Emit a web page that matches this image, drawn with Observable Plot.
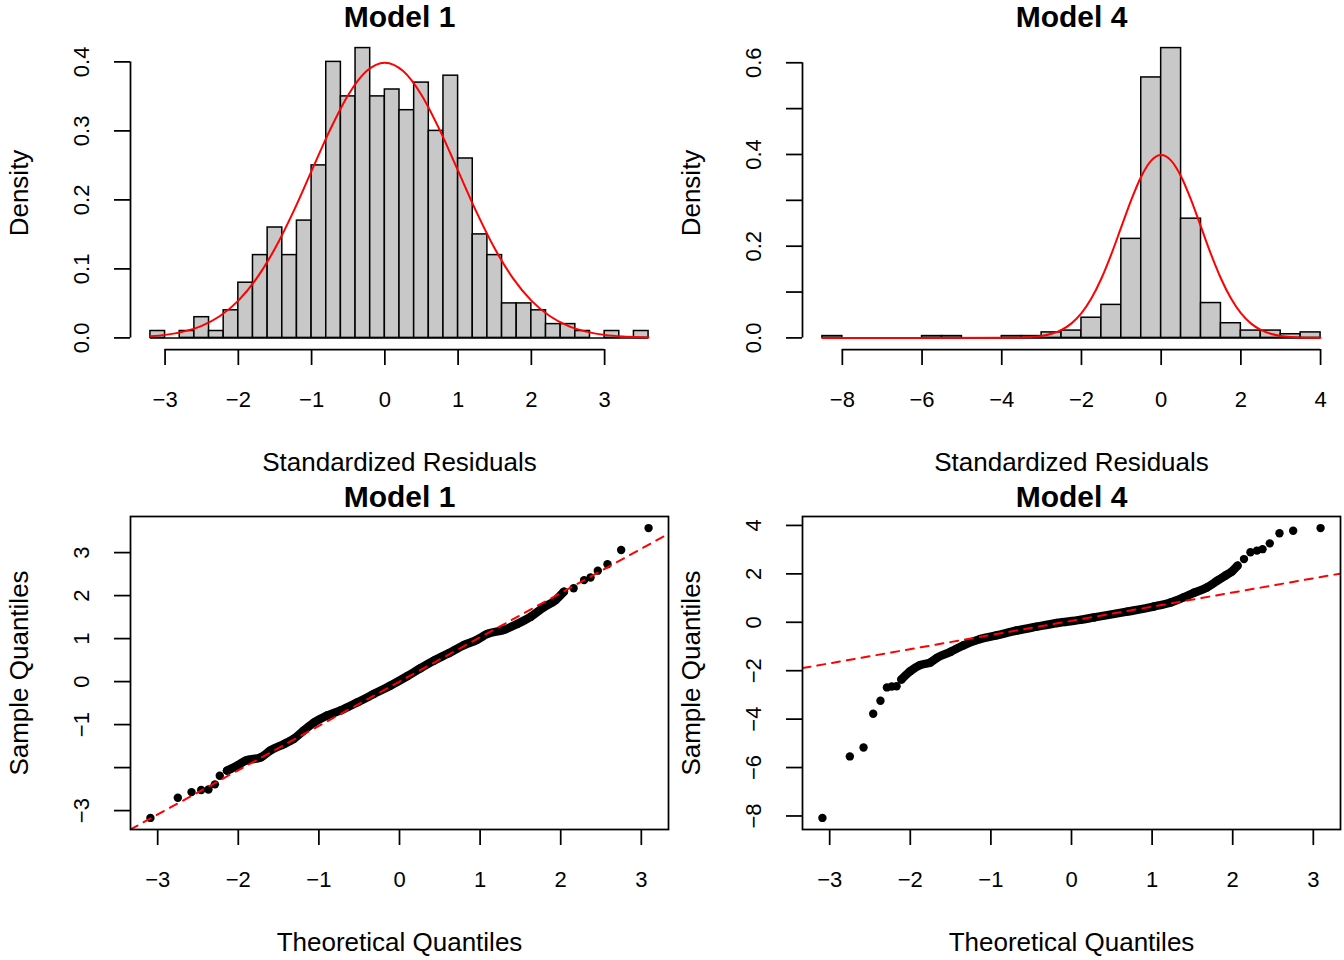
<!DOCTYPE html>
<html><head><meta charset="utf-8">
<script src="https://cdn.jsdelivr.net/npm/d3@7"></script>
<script src="https://cdn.jsdelivr.net/npm/@observablehq/plot@0.6"></script>
<style>
body{margin:0;background:#fff;}
#grid{display:grid;grid-template-columns:672px 672px;grid-template-rows:480px 480px;width:1344px;height:960px;}
#grid svg{display:block;}
</style></head><body><div id="grid"></div>
<script>
// ---------- data ----------
const hist1Breaks = [-3.2,-3.0,-2.8,-2.6,-2.4,-2.2,-2.0,-1.8,-1.6,-1.4,-1.2,-1.0,-0.8,-0.6,-0.4,-0.2,0.0,0.2,0.4,0.6,0.8,1.0,1.2,1.4,1.6,1.8,2.0,2.2,2.4,2.6,2.8,3.0,3.2,3.4,3.6];
const hist1Density = [0.01,0,0.01,0.03,0.01,0.04,0.08,0.12,0.16,0.12,0.17,0.25,0.40,0.35,0.42,0.35,0.36,0.33,0.37,0.30,0.38,0.26,0.15,0.12,0.05,0.05,0.04,0.02,0.02,0.01,0,0.01,0,0.01];
const hist4Breaks = [-8.5,-8,-7.5,-7,-6.5,-6,-5.5,-5,-4.5,-4,-3.5,-3,-2.5,-2,-1.5,-1,-0.5,0,0.5,1,1.5,2,2.5,3,3.5,4];
const hist4Density = [0.004,0,0,0,0,0.004,0.004,0,0,0.004,0.004,0.012,0.016,0.044,0.072,0.216,0.568,0.632,0.26,0.076,0.032,0.016,0.016,0.008,0.012];

// standard normal density curve (red overlay), read at these x positions
const normX = [-8.5,-4,-3.5,-3.2,-3,-2.75,-2.5,-2.25,-2,-1.75,-1.5,-1.25,-1,-0.75,-0.5,-0.25,0,0.25,0.5,0.75,1,1.25,1.5,1.75,2,2.25,2.5,2.75,3,3.25,3.5,3.6,4];
const normY = [0,0.0001,0.0009,0.0024,0.0044,0.0091,0.0175,0.0317,0.054,0.0863,0.1295,0.1826,0.242,0.3011,0.3521,0.3867,0.3989,0.3867,0.3521,0.3011,0.242,0.1826,0.1295,0.0863,0.054,0.0317,0.0175,0.0091,0.0044,0.002,0.0009,0.0006,0.0001];

// Q-Q plots: theoretical vs sample quantiles
const qq1Theo = [-3.09,-2.75,-2.58,-2.46,-2.37,-2.29,-2.23,-2.14,-2.01,-1.91,-1.72,-1.60,-1.43,-1.31,-1.19,-1.06,-0.90,-0.73,-0.52,-0.32,-0.11,0.10,0.26,0.43,0.61,0.80,0.96,1.09,1.29,1.46,1.63,1.79,1.94,2.04,2.16,2.29,2.37,2.46,2.58,2.75,3.09];
const qq1Samp = [-3.17,-2.70,-2.57,-2.52,-2.51,-2.39,-2.19,-2.07,-1.95,-1.84,-1.76,-1.60,-1.45,-1.33,-1.14,-0.95,-0.79,-0.67,-0.48,-0.29,-0.09,0.13,0.31,0.49,0.66,0.85,0.97,1.11,1.20,1.34,1.51,1.73,1.90,2.09,2.17,2.36,2.42,2.58,2.73,3.06,3.57];
const qq4Theo = [-3.09,-2.75,-2.58,-2.46,-2.37,-2.29,-2.23,-2.17,-2.11,-2.00,-1.88,-1.75,-1.67,-1.50,-1.34,-1.13,-0.93,-0.68,-0.43,-0.18,0.11,0.28,0.69,1.02,1.23,1.39,1.52,1.68,1.81,1.91,1.99,2.06,2.14,2.22,2.30,2.37,2.46,2.58,2.75,3.09];
const qq4Samp = [-8.08,-5.54,-5.17,-3.78,-3.24,-2.69,-2.65,-2.64,-2.36,-2.02,-1.77,-1.66,-1.47,-1.22,-0.95,-0.69,-0.54,-0.34,-0.18,-0.03,0.10,0.20,0.44,0.65,0.82,1.03,1.22,1.44,1.72,1.93,2.10,2.34,2.61,2.89,2.96,3.02,3.26,3.68,3.78,3.89];
// reference lines (intercept, slope)
const qq1Line = [0.0, 1.03];
const qq4Line = [0.06, 0.585];

// ticks and labels
const histXTicks1 = [-3,-2,-1,0,1,2,3];
const histXTicks4 = [-8,-6,-4,-2,0,2,4];
const histYTicks1 = [0,0.1,0.2,0.3,0.4];
const histYLabels1 = ["0.0","0.1","0.2","0.3","0.4"];
const histYTicks4 = [0,0.1,0.2,0.3,0.4,0.5,0.6];
const histYLabelVals4 = [0,0.2,0.4,0.6];
const histYLabels4 = ["0.0","0.2","0.4","0.6"];
const qqXTicks = [-3,-2,-1,0,1,2,3];
const qqYTicks1 = [-3,-2,-1,0,1,2,3];
const qqYLabelVals1 = [-3,-1,0,1,2,3];
const qqYTicks4 = [-8,-6,-4,-2,0,2,4];
const titles = ["Model 1","Model 4","Model 1","Model 4"];

// ---------- drawing ----------
const FONT = "'Liberation Sans', Arial, Helvetica, sans-serif";
const LW = 1.75;
const fmt = v => String(v).replace("-", "\u2212");
const pad = ([a, b]) => [a - 0.04 * (b - a), b + 0.04 * (b - a)];

function textMarks(title, xlab, ylab) {
  return [
    Plot.text([title], {text: d => d, frameAnchor: "top", dy: -19, fontSize: 30, fontWeight: "bold", lineAnchor: "middle", textAnchor: "middle"}),
    Plot.text([xlab], {text: d => d, frameAnchor: "bottom", dy: 113, fontSize: 26, lineAnchor: "middle", textAnchor: "middle"}),
    Plot.text([ylab], {text: d => d, frameAnchor: "left", dx: -111, rotate: -90, fontSize: 26, lineAnchor: "middle", textAnchor: "middle"})
  ];
}

function axisMarks(xTicks, xLabels, yTicks, yLabVals, yLabTexts, xDomain, yDomain, lines) {
  const m = [
    Plot.axisX({ticks: xTicks, tickSize: 16, tickFormat: () => "", strokeWidth: LW, label: null}),
    Plot.axisY({ticks: yTicks, tickSize: 16, tickFormat: () => "", strokeWidth: LW, label: null}),
    Plot.text(xTicks, {x: d => d, text: (d, i) => xLabels[i], frameAnchor: "bottom", dy: 50.5, lineAnchor: "middle", textAnchor: "middle", fontSize: 22}),
    Plot.text(yLabVals, {y: d => d, text: (d, i) => yLabTexts[i], frameAnchor: "left", dx: -49, rotate: -90, lineAnchor: "middle", textAnchor: "middle", fontSize: 22})
  ];
  if (lines) {
    m.push(Plot.ruleY([yDomain[0]], {x1: () => xTicks[0], x2: () => xTicks[xTicks.length - 1], strokeWidth: LW}));
    m.push(Plot.ruleX([xDomain[0]], {y1: () => yTicks[0], y2: () => yTicks[yTicks.length - 1], strokeWidth: LW}));
  }
  return m;
}

const common = {width: 672, height: 480, marginLeft: 130, marginRight: 4, marginTop: 36, marginBottom: 131,
  style: {fontFamily: FONT, background: "white", overflow: "visible"}};

function histPanel(title, breaks, dens, xTicks, yTicks, yLabVals, yLabTexts) {
  const bins = dens.map((d, i) => ({x1: breaks[i], x2: breaks[i + 1], d}));
  const xDomain = pad([breaks[0], breaks[breaks.length - 1]]);
  const yDomain = pad([0, d3.max(dens)]);
  const curve = normX.map((x, i) => ({x, y: normY[i]})).filter(p => p.x >= breaks[0] && p.x <= breaks[breaks.length - 1]);
  return Plot.plot({...common,
    x: {domain: xDomain}, y: {domain: yDomain},
    marks: [
      Plot.rectY(bins, {x1: "x1", x2: "x2", y: "d", fill: "#C8C8C8", stroke: "black", strokeWidth: 1.5}),
      Plot.ruleY([0], {x1: () => breaks[0], x2: () => breaks[breaks.length - 1], strokeWidth: 1.5}),
      Plot.line(curve, {x: "x", y: "y", stroke: "#FF0000", strokeWidth: 2, curve: "monotone-x"}),
      ...axisMarks(xTicks, xTicks.map(fmt), yTicks, yLabVals, yLabTexts, xDomain, yDomain, true),
      ...textMarks(title, "Standardized Residuals", "Density")
    ]
  });
}

function qqPanel(title, theo, samp, line, yTicks, yLabVals) {
  const pts = theo.map((t, i) => ({t, s: samp[i]}));
  const body = pts.filter(p => p.t >= -2.15 && p.t <= 2.1);
  const xDomain = pad(d3.extent(theo));
  const yDomain = pad(d3.extent(samp));
  const ends = xDomain.map(t => ({t, s: line[0] + line[1] * t}));
  return Plot.plot({...common,
    x: {domain: xDomain}, y: {domain: yDomain},
    marks: [
      Plot.line(body, {x: "t", y: "s", stroke: "black", strokeWidth: 8.5, strokeLinecap: "round", strokeLinejoin: "round", curve: "monotone-x"}),
      Plot.dot(pts, {x: "t", y: "s", r: 4.2, fill: "black"}),
      Plot.line(ends, {x: "t", y: "s", stroke: "#FF0000", strokeWidth: 2, strokeDasharray: "8,7", clip: true}),
      Plot.frame({strokeWidth: LW}),
      ...axisMarks(qqXTicks, qqXTicks.map(fmt), yTicks, yLabVals, yLabVals.map(fmt), xDomain, yDomain, false),
      ...textMarks(title, "Theoretical Quantiles", "Sample Quantiles")
    ]
  });
}

const grid = document.getElementById("grid");
grid.append(histPanel(titles[0], hist1Breaks, hist1Density, histXTicks1, histYTicks1, histYTicks1, histYLabels1));
grid.append(histPanel(titles[1], hist4Breaks, hist4Density, histXTicks4, histYTicks4, histYLabelVals4, histYLabels4));
grid.append(qqPanel(titles[2], qq1Theo, qq1Samp, qq1Line, qqYTicks1, qqYLabelVals1));
grid.append(qqPanel(titles[3], qq4Theo, qq4Samp, qq4Line, qqYTicks4, qqYTicks4));
</script></body></html>
